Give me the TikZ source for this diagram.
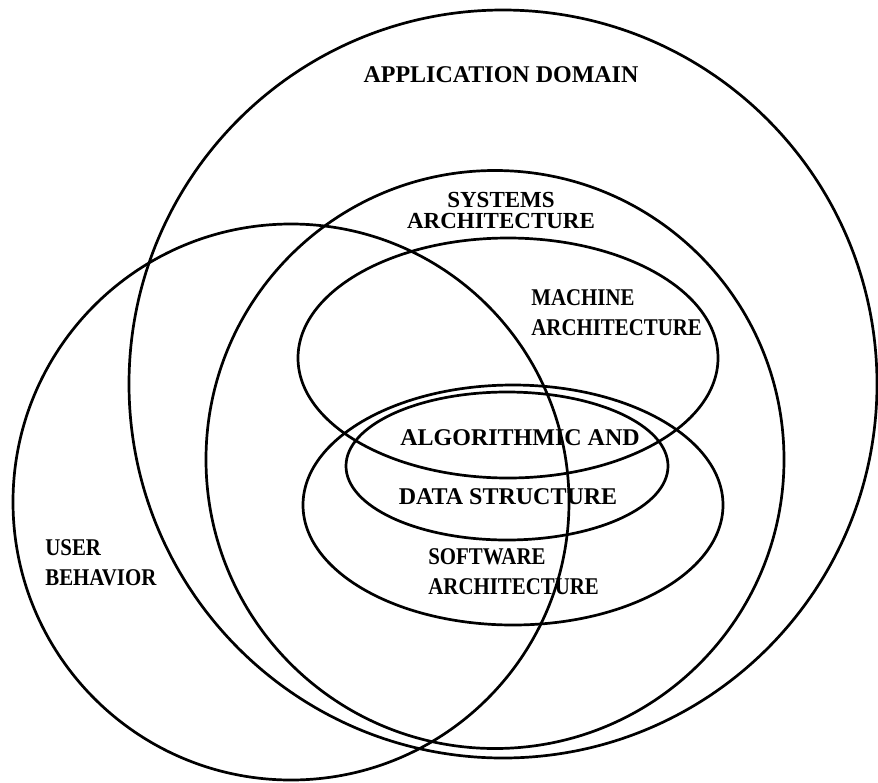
\documentclass[tikz,border=0pt]{standalone}
\usepackage{fontspec}
\setmainfont{Liberation Serif}
\newfontfamily\narrowserif[FakeStretch=0.87]{Liberation Serif}
\usepackage{tikz,tkz-euclide}

\begin{document}
\begin{tikzpicture}[x=1pt, y=-1pt, line join=round, line cap=round, line width=2.7pt,
	lbl/.style={font=\fontsize{24}{30}\selectfont\bfseries, inner sep=0pt},
	narrowlbl/.style={font=\narrowserif\fontsize{24}{30}\selectfont\bfseries, inner sep=0pt, align=left, anchor=west}]
	\useasboundingbox (0,0) rectangle (878,782);
	\tkzDefPoints{503/384/D, 495/459.5/S, 291/502/U, 508/358/M, 513/505/W, 507/466/G}
	% circles
	\draw (D) circle (374);
	\draw (S) circle (289);
	\draw (U) circle (278);
	% ellipses
	\draw (M) ellipse [x radius=210, y radius=120];
	\draw (W) ellipse [x radius=210, y radius=120];
	\draw (G) ellipse [x radius=161, y radius=74];
	% labels
	\node[lbl] (appdomain) at (501,75) {APPLICATION DOMAIN};
	\node[lbl, align=center, font=\fontsize{23}{21}\selectfont\bfseries] (sysarch) at (501,210) {SYSTEMS\\ARCHITECTURE};
	\node[narrowlbl] (macharch) at (530,313) {MACHINE\\ARCHITECTURE};
	\node[lbl] (algo) at (520,438) {ALGORITHMIC AND};
	\node[lbl] (datastruct) at (508,497) {DATA STRUCTURE};
	\node[narrowlbl] (softarch) at (427,572) {SOFTWARE\\ARCHITECTURE};
	\node[narrowlbl] (userbeh) at (44,563) {USER\\BEHAVIOR};
\end{tikzpicture}
\end{document}
